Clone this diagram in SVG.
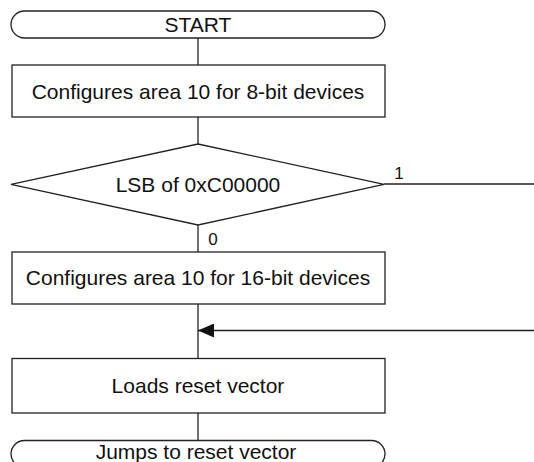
<svg xmlns="http://www.w3.org/2000/svg" width="534" height="462" viewBox="0 0 534 462">
<style>
.s{fill:#fff;stroke:#222;stroke-width:1.3}
.l{fill:none;stroke:#222;stroke-width:1.3}
.t{font-family:"Liberation Sans",Arial,sans-serif;font-size:21px;fill:#111;text-anchor:middle}
.lb{font-family:"Liberation Sans",Arial,sans-serif;font-size:17px;fill:#111;text-anchor:middle}
</style>
<defs>
<marker id="ah" markerWidth="17" markerHeight="14" refX="16" refY="7" orient="auto" markerUnits="userSpaceOnUse">
<path d="M0,0 L16,7 L0,14 Z" fill="#111"/>
</marker>
</defs>
<g id="connectors">
<line class="l" x1="198" y1="38" x2="198" y2="65"/>
<line class="l" x1="198" y1="117" x2="198" y2="144"/>
<line class="l" x1="198" y1="225" x2="198" y2="252"/>
<line class="l" x1="198" y1="304" x2="198" y2="358.5"/>
<line class="l" x1="198" y1="413" x2="198" y2="440.5"/>
<line class="l" x1="384" y1="184" x2="534" y2="184"/>
<line class="l" x1="534" y1="330.5" x2="198" y2="330.5" marker-end="url(#ah)"/>
<text class="lb" x="399" y="179">1</text>
<text class="lb" x="213" y="245">0</text>
</g>
<g id="start">
<rect class="s" x="11" y="11" width="374" height="27" rx="13.5" ry="13.5"/>
<text class="t" x="198" y="31.5">START</text>
</g>
<g id="cfg8">
<rect class="s" x="12" y="65" width="373" height="52"/>
<text class="t" x="198" y="98.5">Configures area 10 for 8-bit devices</text>
</g>
<g id="decision">
<polygon class="s" points="198,144 384,184.3 198,225 11,184.3"/>
<text class="t" x="198" y="191.5">LSB of 0xC00000</text>
</g>
<g id="cfg16">
<rect class="s" x="12" y="252" width="373" height="52"/>
<text class="t" x="198" y="285">Configures area 10 for 16-bit devices</text>
</g>
<g id="loads">
<rect class="s" x="12" y="358.5" width="373" height="54.5"/>
<text class="t" x="198" y="393">Loads reset vector</text>
</g>
<g id="jump">
<rect class="s" x="11" y="440.5" width="374" height="27" rx="13.5" ry="13.5"/>
<text class="t" x="196" y="458.5">Jumps to reset vector</text>
</g>
</svg>
